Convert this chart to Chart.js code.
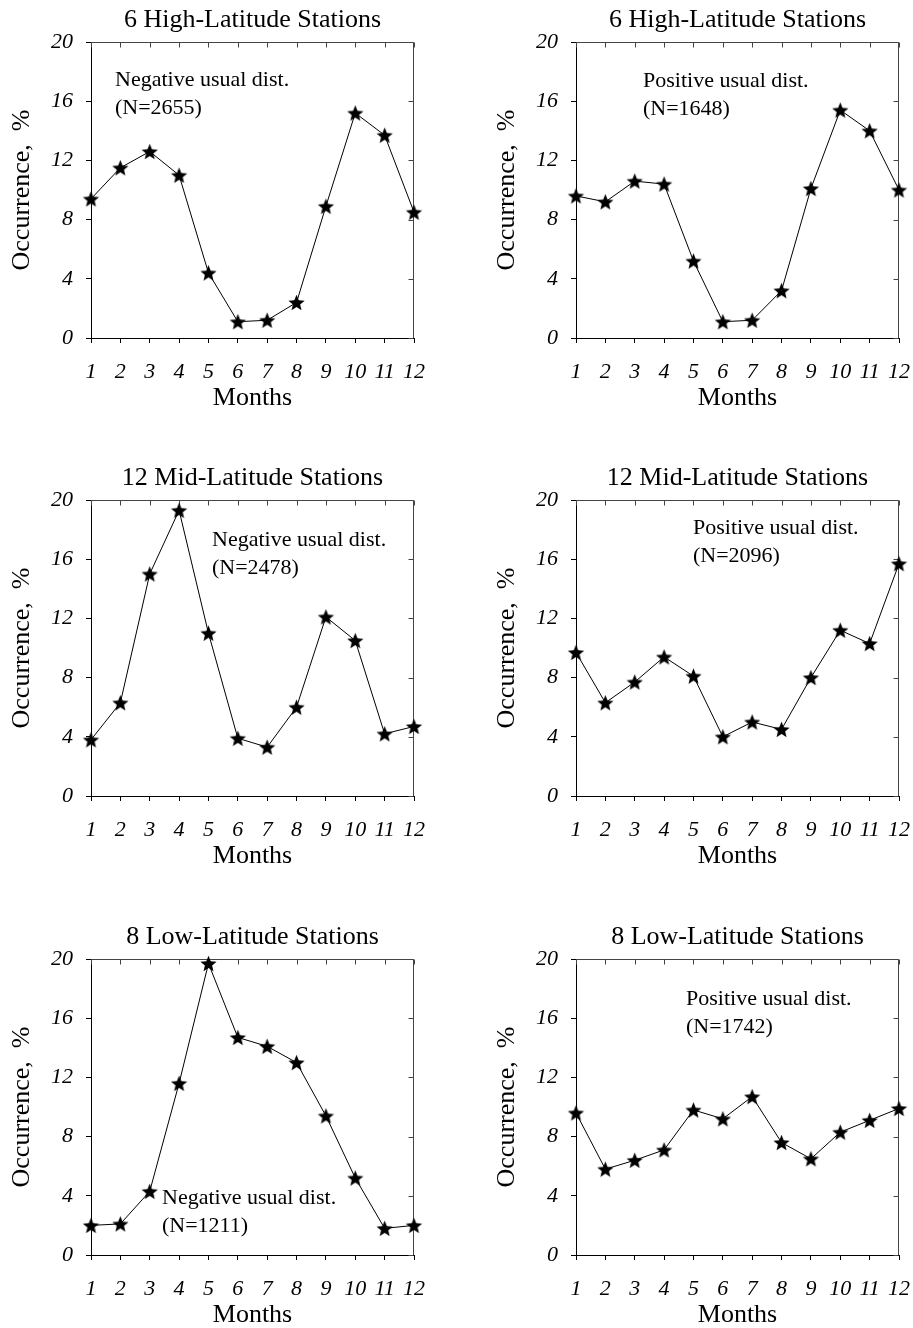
<!DOCTYPE html>
<html>
<head>
<meta charset="utf-8">
<script src="https://cdn.jsdelivr.net/npm/chart.js@4.4.1/dist/chart.umd.min.js"></script>
<style>
  html, body { margin: 0; padding: 0; background: #fff; overflow: hidden; }
  canvas { position: absolute; }
</style>
</head>
<body>
<canvas id="c1" width="428" height="414" style="left:0;top:0"></canvas>
<canvas id="c2" width="428" height="414" style="left:485px;top:0"></canvas>
<canvas id="c3" width="428" height="414" style="left:0;top:458px"></canvas>
<canvas id="c4" width="428" height="414" style="left:485px;top:458px"></canvas>
<canvas id="c5" width="428" height="414" style="left:0;top:917px"></canvas>
<canvas id="c6" width="428" height="414" style="left:485px;top:917px"></canvas>
<script>
// data (occurrence in %, by month)
const months = ['1', '2', '3', '4', '5', '6', '7', '8', '9', '10', '11', '12'];
const yTicks = [0, 4, 8, 12, 16, 20];

const highNeg = [9.4, 11.5, 12.6, 11.0, 4.4, 1.1, 1.2, 2.4, 8.9, 15.2, 13.7, 8.5];
const highPos = [9.6, 9.2, 10.6, 10.4, 5.2, 1.1, 1.2, 3.2, 10.1, 15.4, 14.0, 10.0];
const midNeg = [3.8, 6.3, 15.0, 19.3, 11.0, 3.9, 3.3, 6.0, 12.1, 10.5, 4.2, 4.7];
const midPos = [9.7, 6.3, 7.7, 9.4, 8.1, 4.0, 5.0, 4.5, 8.0, 11.2, 10.3, 15.7];
const lowNeg = [2.0, 2.1, 4.3, 11.6, 19.7, 14.7, 14.1, 13.0, 9.4, 5.2, 1.8, 2.0];
const lowPos = [9.6, 5.8, 6.4, 7.1, 9.8, 9.2, 10.7, 7.6, 6.5, 8.3, 9.1, 9.9];

const SERIF = '"Liberation Serif", "Times New Roman", serif';
Chart.defaults.font.family = SERIF;
Chart.defaults.color = '#000';

// filled five-point star used as point marker
function makeStar(R, r) {
    const c = document.createElement('canvas');
    const s = Math.ceil(R * 2) + 2;
    c.width = s; c.height = s;
    const g = c.getContext('2d');
    g.translate(s / 2, s / 2 + 0.8);
    g.beginPath();
    for (let i = 0; i < 10; i++) {
        const rad = i % 2 ? r : R;
        const a = -Math.PI / 2 + i * Math.PI / 5;
        g.lineTo(rad * Math.cos(a), rad * Math.sin(a));
    }
    g.closePath();
    g.fillStyle = '#000';
    g.fill();
    return c;
}
const star = makeStar(8.5, 3.8);

// top/right frame with inward ticks, panel title and note text
const framePlugin = {
    id: 'frame',
    beforeDatasetsDraw(chart) {
        const { ctx, chartArea: a, scales: { x, y } } = chart;
        const top = Math.round(a.top) + 0.5, right = Math.round(a.right) - 0.5;
        ctx.save();
        ctx.strokeStyle = '#444';
        ctx.lineWidth = 1;
        ctx.beginPath();
        ctx.moveTo(a.left, top); ctx.lineTo(right, top); ctx.lineTo(right, a.bottom);
        x.ticks.forEach((t, i) => {
            const px = Math.round(x.getPixelForTick(i)) + 0.5;
            ctx.moveTo(px, top); ctx.lineTo(px, top + 5);
        });
        y.ticks.forEach((t, i) => {
            const py = Math.round(y.getPixelForTick(i)) + 0.5;
            ctx.moveTo(right, py); ctx.lineTo(right - 5, py);
        });
        ctx.stroke();
        ctx.restore();
    },
    afterDraw(chart, args, opts) {
        const { ctx, chartArea: a } = chart;
        ctx.save();
        ctx.fillStyle = '#000';
        ctx.textBaseline = 'alphabetic';
        ctx.font = '26px ' + SERIF;
        ctx.textAlign = 'center';
        ctx.fillText(opts.title, (a.left + a.right) / 2, a.top - 15);
        ctx.font = '22px ' + SERIF;
        ctx.textAlign = 'left';
        opts.note.forEach((line, i) => {
            ctx.fillText(line, a.left + opts.dx, a.top + opts.dy + i * 27.5);
        });
        ctx.restore();
    }
};

const panels = [
    { id: 'c1', title: '6 High-Latitude Stations', values: highNeg, note: ['Negative usual dist.', '(N=2655)'], dx: 24, dy: 44 },
    { id: 'c2', title: '6 High-Latitude Stations', values: highPos, note: ['Positive usual dist.', '(N=1648)'], dx: 67, dy: 45 },
    { id: 'c3', title: '12 Mid-Latitude Stations', values: midNeg, note: ['Negative usual dist.', '(N=2478)'], dx: 121, dy: 46 },
    { id: 'c4', title: '12 Mid-Latitude Stations', values: midPos, note: ['Positive usual dist.', '(N=2096)'], dx: 117, dy: 34 },
    { id: 'c5', title: '8 Low-Latitude Stations', values: lowNeg, note: ['Negative usual dist.', '(N=1211)'], dx: 71, dy: 245 },
    { id: 'c6', title: '8 Low-Latitude Stations', values: lowPos, note: ['Positive usual dist.', '(N=1742)'], dx: 110, dy: 46 }
];

panels.forEach(p => {
    const ctx = document.getElementById(p.id).getContext('2d');
    new Chart(ctx, {
        type: 'line',
        data: {
            labels: months,
            datasets: [{
                data: p.values,
                borderColor: '#000',
                borderWidth: 1,
                tension: 0,
                fill: false,
                pointStyle: star,
                pointRadius: 8,
                clip: false
            }]
        },
        options: {
            responsive: false,
            animation: false,
            events: [],
            layout: { padding: { left: 0, right: 14, top: 42, bottom: 0 } },
            plugins: {
                legend: { display: false },
                tooltip: { enabled: false },
                frame: { title: p.title, note: p.note, dx: p.dx, dy: p.dy }
            },
            scales: {
                x: {
                    offset: false,
                    grid: { drawOnChartArea: false, tickLength: 5, color: '#000' },
                    border: { color: '#000', width: 1 },
                    ticks: {
                        autoSkip: false, maxRotation: 0, padding: 16,
                        font: { size: 22, style: 'italic' }, color: '#000'
                    },
                    title: { display: true, text: 'Months', font: { size: 26 }, color: '#000', padding: { top: 0, bottom: 0 } },
                    afterFit: s => { s.height = 76; s.paddingLeft = 0; s.paddingRight = 0; }
                },
                y: {
                    min: 0,
                    max: 20,
                    afterBuildTicks: s => { s.ticks = yTicks.map(v => ({ value: v })); },
                    grid: { drawOnChartArea: false, tickLength: 5, color: '#000' },
                    border: { color: '#000', width: 1 },
                    ticks: { padding: 13, font: { size: 22, style: 'italic' }, color: '#000' },
                    title: { display: true, text: 'Occurrence,  %', font: { size: 26 }, color: '#000', padding: { top: 7, bottom: 0 } },
                    afterFit: s => { s.width = 91; }
                }
            }
        },
        plugins: [framePlugin]
    });
});
</script>
</body>
</html>
